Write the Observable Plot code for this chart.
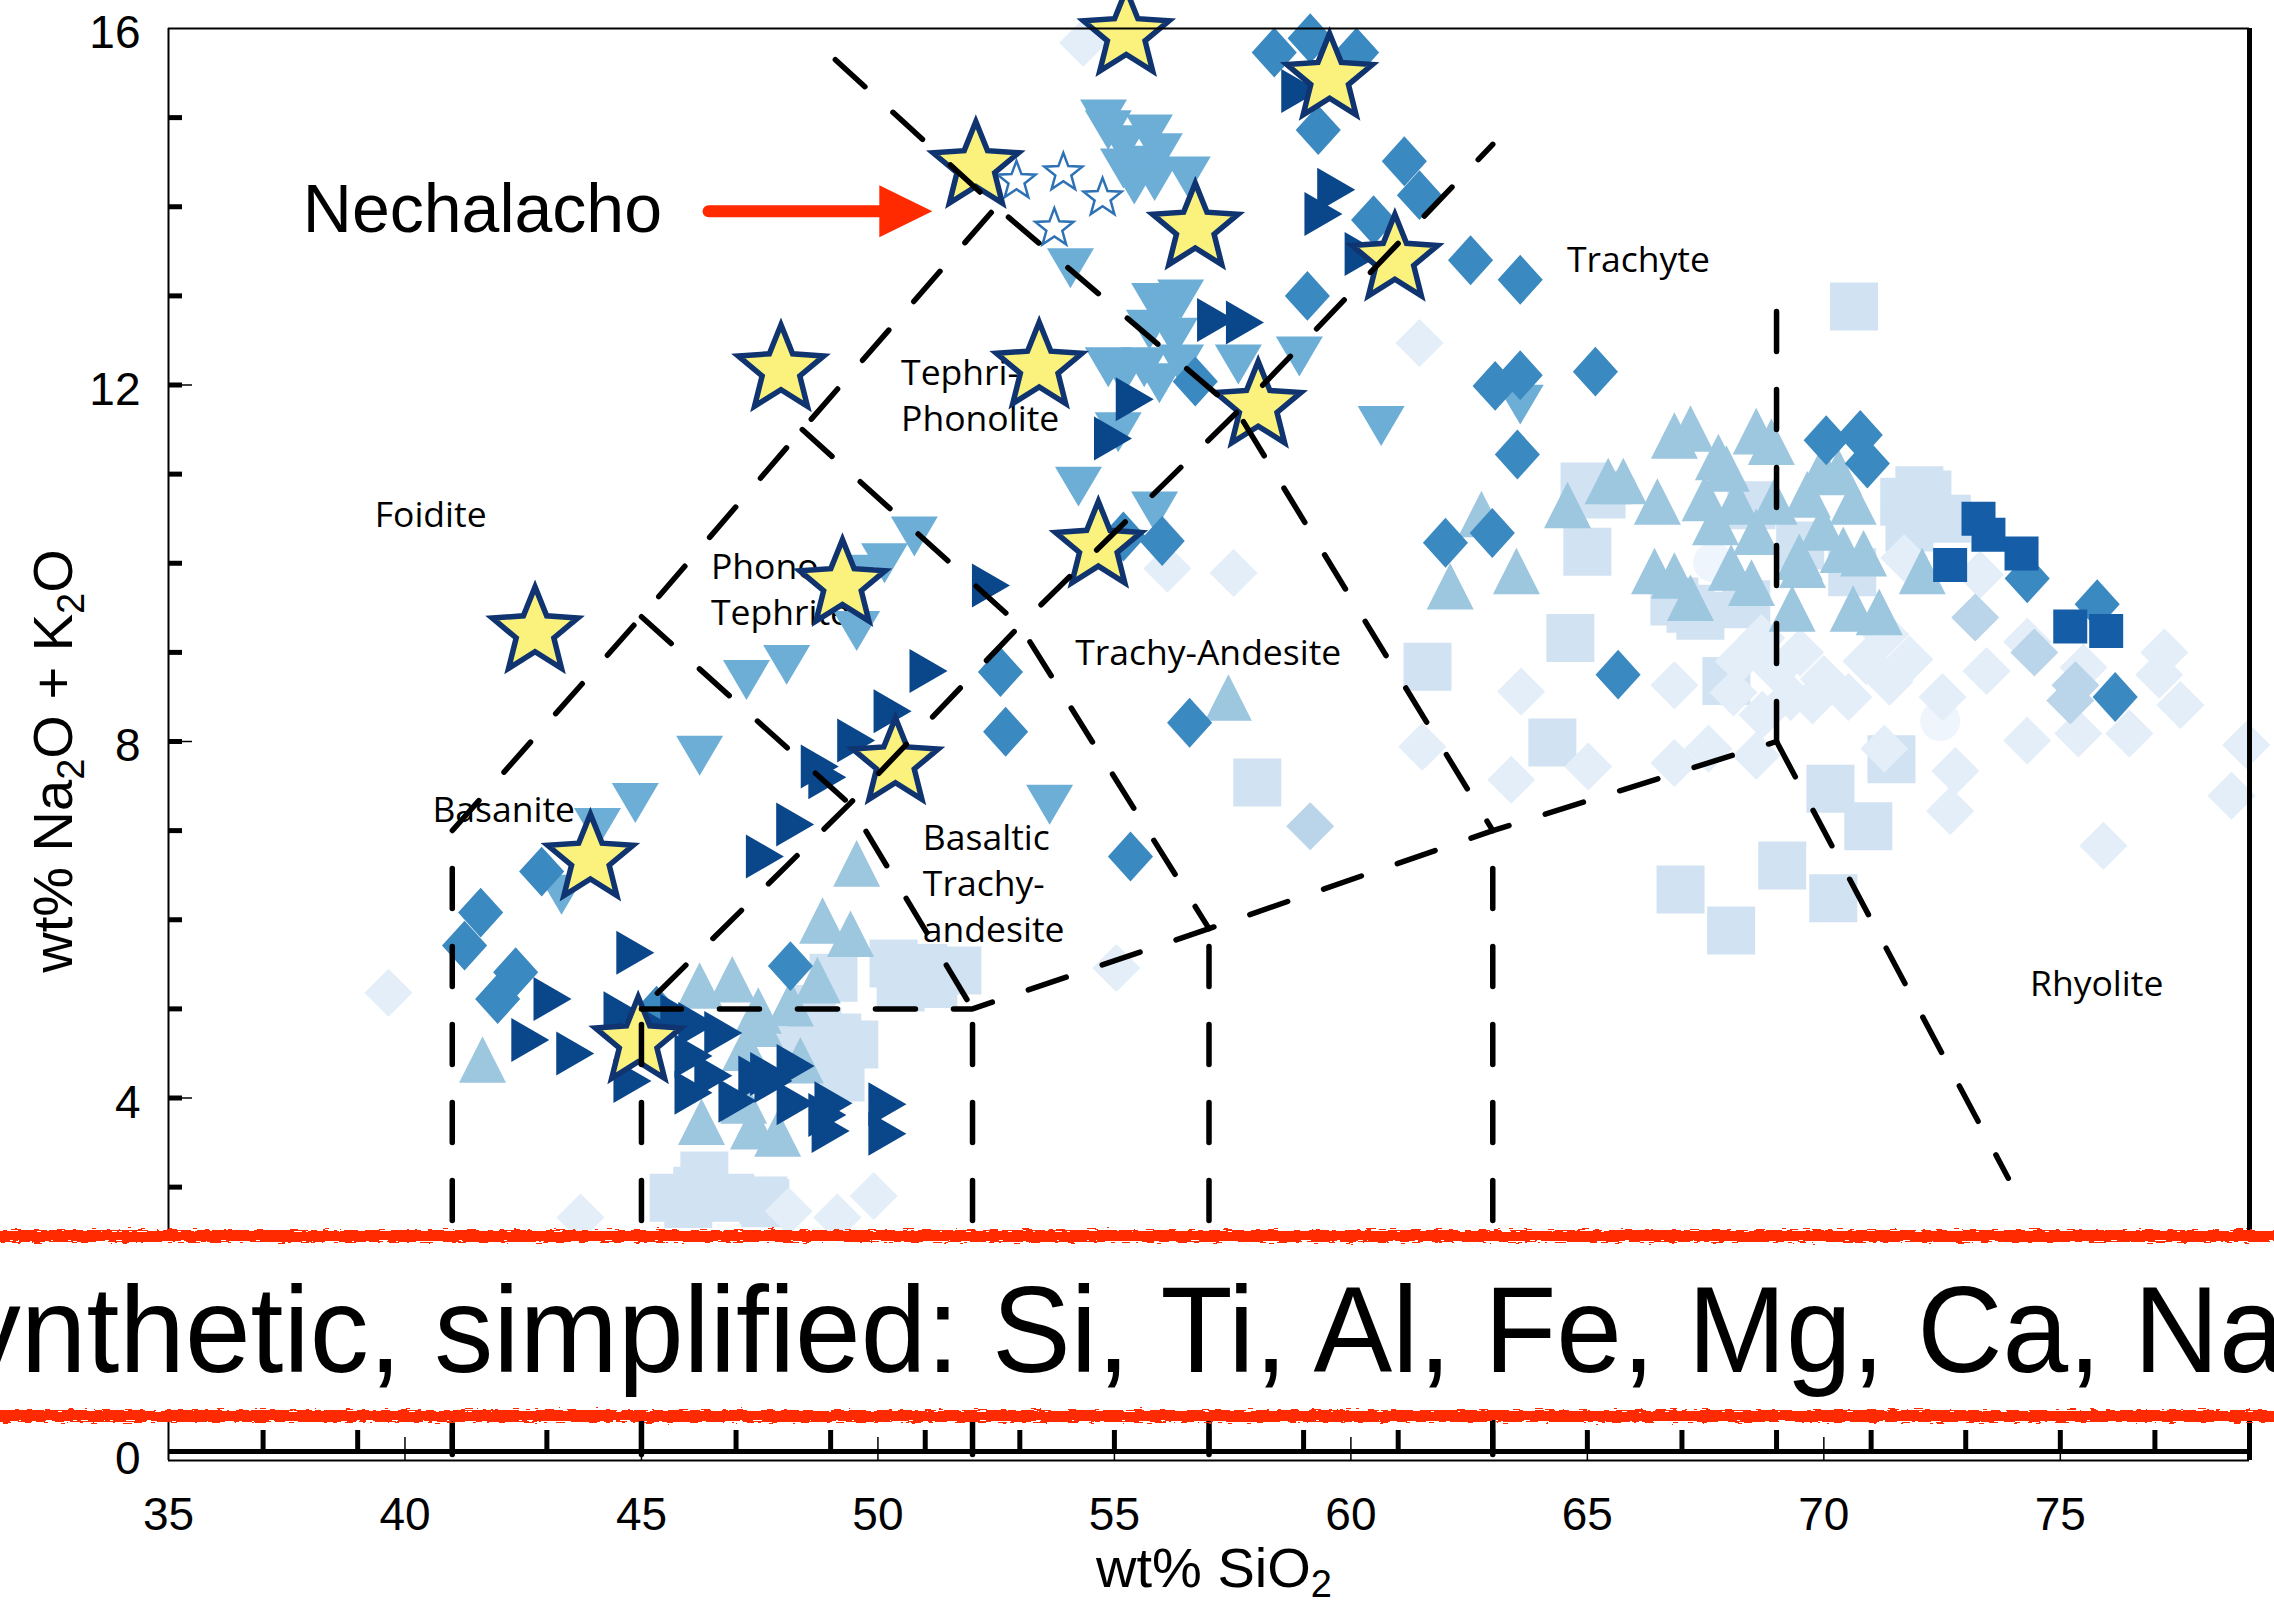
<!DOCTYPE html>
<html>
<head>
<meta charset="utf-8">
<script src="https://cdn.jsdelivr.net/npm/d3@7"></script>
<script src="https://cdn.jsdelivr.net/npm/@observablehq/plot@0.6"></script>
<style>
  html, body { margin: 0; padding: 0; background: #fff; }
  #chart svg { display: block; }
</style>
</head>
<body>
<div id="chart"></div>
<script>
// ---------------- DATA (wt% SiO2, wt% Na2O + K2O) ----------------
const yellowStars = [[55.25,15.93],[52.07,14.45],[59.55,15.44],[56.71,13.76],[60.93,13.41],[47.95,12.17],[53.41,12.20],[58.04,11.76],[54.66,10.19],[49.25,9.76],[42.75,9.23],[50.37,7.76],[43.92,6.68],[44.93,4.63]];
const openStars = [[52.93,14.29],[53.92,14.38],[54.75,14.10],[53.73,13.76]];
const darkTriangles = [[42.65,4.65],[43.12,5.11],[43.60,4.50],[44.87,5.63],[44.60,4.95],[44.81,4.19],[45.40,4.76],[45.80,4.92],[46.18,4.83],[46.73,4.73],[46.10,4.47],[46.10,4.06],[46.52,4.25],[47.03,3.97],[47.45,4.23],[47.79,4.19],[48.26,4.36],[48.26,3.94],[49.06,3.94],[49.00,3.63],[50.20,3.93],[50.20,3.60],[47.70,4.27],[48.93,3.81],[47.61,6.71],[48.25,7.07],[48.93,7.60],[48.77,7.72],[49.54,8.01],[50.31,8.34],[51.07,8.79],[52.39,9.75],[54.97,11.40],[55.43,11.84],[57.15,12.73],[57.76,12.70],[59.42,13.92],[59.69,14.19],[58.93,15.30],[60.27,13.47]];
const midDiamonds = [[58.38,15.73],[59.14,15.89],[60.12,15.73],[59.31,14.86],[61.13,14.51],[61.45,14.13],[60.48,13.85],[62.53,13.40],[59.08,13.00],[56.71,12.04],[56.01,10.25],[55.19,10.30],[63.58,13.18],[63.05,11.99],[63.58,12.11],[65.17,12.15],[63.52,11.22],[62.00,10.23],[62.99,10.34],[70.05,11.38],[70.77,11.44],[70.92,11.12],[74.30,9.83],[65.65,8.75],[75.78,9.54],[76.16,8.50],[52.59,8.78],[52.70,8.11],[56.59,8.21],[55.34,6.71],[48.15,5.48],[42.89,6.54],[41.60,6.08],[41.26,5.71],[42.34,5.41],[41.96,5.11],[45.32,4.98]];
const darkSquares = [[73.27,10.50],[73.48,10.32],[74.18,10.11],[72.67,9.98],[75.21,9.29],[75.97,9.24]];
const downTriangles = [[54.77,14.98],[54.87,14.86],[55.19,14.69],[55.74,14.81],[55.95,14.60],[55.53,14.46],[55.85,14.29],[56.54,14.34],[55.19,14.43],[55.42,14.25],[54.07,13.31],[55.85,12.92],[56.16,12.79],[56.40,12.96],[55.74,12.62],[56.27,12.53],[54.87,12.20],[55.19,12.11],[55.63,12.20],[55.95,12.02],[56.40,12.23],[57.62,12.23],[58.91,12.32],[55.08,11.47],[54.24,10.86],[55.85,10.58],[50.77,10.30],[50.14,10.00],[49.59,9.87],[63.58,11.78],[60.64,11.54],[47.22,8.69],[48.07,8.86],[49.55,9.24],[53.63,7.29],[46.23,7.84],[44.87,7.31],[44.07,7.03],[43.31,6.28]];
const upTriangles = [[67.18,11.51],[66.84,11.43],[68.57,11.48],[68.89,11.36],[67.77,11.19],[67.94,11.06],[69.97,11.06],[70.31,11.02],[65.44,10.92],[65.76,10.92],[64.58,10.65],[66.48,10.69],[67.49,10.73],[68.15,10.69],[68.95,10.69],[69.65,10.77],[70.62,10.69],[67.71,10.46],[68.57,10.35],[69.97,10.40],[70.41,10.15],[69.48,10.07],[66.42,9.91],[66.84,9.86],[68.04,9.95],[68.47,9.78],[69.55,9.98],[70.84,10.11],[72.08,9.91],[69.33,9.49],[70.62,9.49],[71.17,9.45],[67.18,9.61],[63.50,9.91],[62.76,10.55],[62.10,9.74],[57.41,8.49],[41.64,4.43],[46.23,5.26],[46.92,5.33],[46.27,3.73],[47.37,3.68],[47.47,4.98],[48.15,5.06],[48.83,5.99],[49.42,5.84],[48.72,5.32],[47.20,4.56],[47.16,3.97],[47.88,3.60],[48.36,4.42],[49.55,6.63],[47.49,4.83]];
const lightSquares = [[50.33,5.51],[50.96,5.46],[51.68,5.43],[50.48,5.24],[51.17,5.28],[49.06,5.35],[48.72,4.75],[49.14,4.68],[48.36,4.53],[49.21,4.23],[48.90,4.45],[49.50,4.60],[48.60,5.00],[46.18,2.96],[47.58,2.85],[45.99,2.81],[46.33,3.13],[46.88,2.88],[45.68,2.88],[47.62,2.82],[70.64,12.88],[72.19,10.77],[64.94,10.86],[65.00,10.13],[65.30,10.77],[64.64,9.16],[64.26,7.99],[67.94,8.68],[66.97,6.34],[68.04,5.88],[69.12,6.61],[70.14,7.47],[70.94,7.05],[70.20,6.24],[71.43,7.80],[72.02,10.82],[67.18,9.49],[68.47,10.65],[68.36,9.54],[61.62,8.84],[58.02,7.54],[71.70,10.69],[71.81,10.40],[66.84,9.57],[67.39,9.41],[69.50,10.20],[70.60,9.90],[72.60,10.50]];
const paleDiamonds = [[54.34,15.84],[61.45,12.47],[56.12,9.94],[57.52,9.89],[61.51,7.94],[55.04,5.46],[39.65,5.18],[43.71,2.66],[48.11,2.73],[49.14,2.66],[49.91,2.90],[63.60,8.56],[66.84,8.63],[68.09,8.55],[68.68,9.16],[69.76,8.46],[70.52,8.50],[71.39,8.67],[71.81,8.92],[72.51,8.50],[73.44,8.79],[74.30,9.12],[75.49,8.83],[76.46,8.09],[77.20,9.00],[77.54,8.41],[78.62,7.39],[75.91,6.83],[72.67,7.22],[72.78,7.67],[71.28,7.92],[67.56,7.92],[66.84,7.76],[65.02,7.72],[63.39,7.57],[68.57,7.84],[74.30,8.01],[75.38,8.09],[77.09,8.75],[78.93,7.96],[71.70,10.06],[73.30,9.87],[68.20,8.90],[69.00,8.80],[69.50,9.00],[70.00,8.70],[70.90,8.90],[71.30,9.20],[68.70,8.30],[69.30,8.50]];
const midPaleDiamonds = [[73.20,9.39],[74.45,9.00],[75.32,8.63],[75.21,8.46],[59.14,7.05]];
const faintCircles = [[67.66,10.01],[72.46,8.23]];

// TAS field boundaries (dashed)
const tasBoundaries = [
  [[41,0],[41,7],[45,9.4],[48.4,11.5],[52.5,14]],
  [[49.1,15.65],[52.5,14],[57.6,11.7],[63,7]],
  [[45,0],[45,5],[49.4,7.3],[53,9.3],[57.6,11.7],[63,14.7]],
  [[45,9.4],[49.4,7.3],[52,5]],
  [[48.4,11.5],[53,9.3],[57,5.9]],
  [[45,5],[52,5],[57,5.9],[63,7],[69,8]],
  [[52,0],[52,5]],
  [[57,0],[57,5.9]],
  [[63,0],[63,7]],
  [[69,8],[69,13]],
  [[69,8],[73.9,3.1]]
];

const fieldNames = ["Foidite","Basanite","Phono-\nTephrite","Tephri-\nPhonolite","Trachy-Andesite","Basaltic\nTrachy-\nandesite","Trachyte","Rhyolite"];
const fieldX = [39.36,40.58,46.47,50.49,54.17,50.95,64.57,74.36];
const fieldY = [10.57,7.26,9.73,11.91,9.02,6.43,13.43,5.31];

const annotationText = ["Nechalacho"];
const annotationX = [37.84];
const annotationY = [13.96];
const arrowFrom = [46.42, 13.95];
const arrowTo = [51.15, 13.95];

const xTickLabels = [35,40,45,50,55,60,65,70,75];
const yTickLabels = [0,4,8,12,16];
const xMinorTicks = d3.range(37, 79, 2);
const yMinorTicks = d3.range(1, 16, 1);
const bannerText = "Synthetic, simplified: Si, Ti, Al, Fe, Mg, Ca, Na, K";

// ---------------- SYMBOLS ----------------
const rad = size => Math.sqrt(size / Math.PI);
const poly = pts => ({ draw(ctx, size) { const s = rad(size); pts.forEach(([a, b], i) => i ? ctx.lineTo(a * s, b * s) : ctx.moveTo(a * s, b * s)); ctx.closePath(); } });
const symTriRight = poly([[-0.864,-1],[0.864,0],[-0.864,1]]);
const symTriDown = poly([[-1,-0.85],[1,-0.85],[0,0.85]]);
const symTriUp = poly([[0,-1],[1,0.98],[-1,0.98]]);
const symDiamondTall = poly([[0,-1.04],[0.94,0],[0,1.04],[-0.94,0]]);
const symDiamond = poly([[0,-1],[1,0],[0,1],[-1,0]]);
const symSquare = poly([[-1,-1],[1,-1],[1,1],[-1,1]]);
const starSym = (inner) => ({ draw(ctx, size) { const R = rad(size); for (let i = 0; i < 10; i++) { const r = i % 2 ? R * inner : R; const a = -Math.PI / 2 + i * Math.PI / 5; const px = r * Math.cos(a), py = r * Math.sin(a); i ? ctx.lineTo(px, py) : ctx.moveTo(px, py); } ctx.closePath(); } });
const arrowHead = { draw(ctx) { ctx.moveTo(0, 0); ctx.lineTo(-53, -26); ctx.lineTo(-53, 26); ctx.closePath(); } };

const pts = a => a.map(([x, y]) => ({x, y}));
const lineRows = tasBoundaries.flatMap((seg, i) => seg.map(([x, y]) => ({id: i, x, y})));
const fields = fieldNames.map((t, i) => ({text: t, x: fieldX[i], y: fieldY[i]}));
const annots = annotationText.map((t, i) => ({text: t, x: annotationX[i], y: annotationY[i]}));

const W = 2274, H = 1608, ML = 168, MR = 25, MT = 28, MB = 154;
const PW = W - ML - MR, PH = H - MT - MB;
const FONT = "Liberation Sans, Helvetica, Arial, sans-serif";

const dotMark = (data, sym, r, fill, extra = {}) => Plot.dot(pts(data), {x: "x", y: "y", symbol: sym, r, fill, ...extra});

const plot = Plot.plot({
  width: W, height: H,
  marginLeft: ML, marginRight: MR, marginTop: MT, marginBottom: MB,
  x: {domain: [35, 79]},
  y: {domain: [0, 16]},
  style: {fontFamily: FONT, fontSize: "46px", background: "#fff", color: "#000"},
  marks: [
    // region labels (under markers)
    Plot.text(fields, {x: "x", y: "y", text: "text", textAnchor: "start", fontFamily: "Open Sans", fontSize: 35.5, lineHeight: 1.3, fill: "#000"}),
    // data markers
    dotMark(lightSquares, symSquare, 24, "#d1e2f2"),
    dotMark(faintCircles, "circle", 20, "#eef5fc"),
    dotMark(paleDiamonds, symDiamond, 24, "#e3eef9"),
    dotMark(midPaleDiamonds, symDiamond, 24, "#bad5ea"),
    dotMark(upTriangles, symTriUp, 23.5, "#9dc6df"),
    dotMark(downTriangles, symTriDown, 23.5, "#6daed7"),
    dotMark(midDiamonds, symDiamondTall, 24, "#3a89c1"),
    dotMark(darkSquares, symSquare, 17, "#155da7"),
    dotMark(darkTriangles, symTriRight, 22, "#0a468a"),
    dotMark(openStars, starSym(0.42), 20, "#fff", {stroke: "#2e72b5", strokeWidth: 2.5}),
    dotMark(yellowStars, starSym(0.44), 45, "#fbf27d", {stroke: "#0f3470", strokeWidth: 5.5, strokeLinejoin: "miter"}),
    // dashed TAS boundaries
    Plot.line(lineRows, {x: "x", y: "y", z: "id", stroke: "#000", strokeWidth: 5.5, strokeDasharray: "40,38", curve: "linear"}),
    // frame
    Plot.ruleY([16], {strokeWidth: 2}),
    Plot.ruleX([35], {strokeWidth: 2, insetBottom: -6}),
    Plot.ruleX([79], {strokeWidth: 5, insetBottom: -6}),
    Plot.ruleY([0], {strokeWidth: 5, dy: -3}),
    Plot.ruleY([0], {strokeWidth: 2, dy: 6}),
    // ticks
    Plot.tickY(yMinorTicks, {y: d => d, strokeWidth: 5, insetRight: PW - 14}),
    Plot.tickY(yTickLabels.filter(d => d > 0 && d < 16), {y: d => d, strokeWidth: 1.5, insetRight: PW - 24}),
    Plot.tickX(xMinorTicks, {x: d => d, strokeWidth: 5, insetTop: PH - 24}),
    Plot.tickX(xTickLabels.filter(d => d > 35), {x: d => d, strokeWidth: 1.5, insetTop: PH - 17, insetBottom: -6}),
    Plot.axisX(xTickLabels, {tickSize: 0, tickPadding: 43, fontSize: 46, label: null, tickFormat: d => String(d)}),
    Plot.axisY(yTickLabels, {tickSize: 0, tickPadding: 28, fontSize: 46, dy: 5, label: null, tickFormat: d => String(d)}),
    // annotation
    Plot.text(annots, {x: "x", y: "y", text: "text", textAnchor: "start", fontSize: 68, fill: "#000"}),
    Plot.arrow([{x1: arrowFrom[0], y1: arrowFrom[1], x2: arrowTo[0], y2: arrowTo[1]}], {x1: "x1", y1: "y1", x2: "x2", y2: "y2", stroke: "#ff2a00", strokeWidth: 12, headLength: 0, insetEnd: 45}),
    Plot.dot([{x: arrowTo[0], y: arrowTo[1]}], {x: "x", y: "y", symbol: arrowHead, fill: "#ff2a00"})
  ]
});

document.getElementById("chart").appendChild(plot);

// ---------- axis titles (with subscripts) ----------
const svg = d3.select(plot);
const xt = svg.append("text").attr("x", 1214).attr("y", 1587).attr("text-anchor", "middle")
  .attr("font-family", FONT).attr("font-size", 56).attr("fill", "#000");
xt.append("tspan").text("wt% SiO");
xt.append("tspan").attr("dy", 10).attr("font-size", 38).text("2");

const yt = svg.append("text").attr("transform", "translate(72,761) rotate(-90)").attr("text-anchor", "middle")
  .attr("font-family", FONT).attr("font-size", 56).attr("fill", "#000");
yt.append("tspan").text("wt% Na");
yt.append("tspan").attr("dy", 12).attr("font-size", 38).text("2");
yt.append("tspan").attr("dy", -12).text("O + K");
yt.append("tspan").attr("dy", 12).attr("font-size", 38).text("2");
yt.append("tspan").attr("dy", -12).text("O");

// ---------- banner overlay ----------
const defs = svg.append("defs");
const flt = defs.append("filter").attr("id", "rough").attr("x", "-2%").attr("y", "-300%").attr("width", "104%").attr("height", "700%");
flt.append("feTurbulence").attr("type", "fractalNoise").attr("baseFrequency", "0.09 0.7").attr("numOctaves", 2).attr("seed", 7).attr("result", "noise");
flt.append("feDisplacementMap").attr("in", "SourceGraphic").attr("in2", "noise").attr("scale", 8).attr("xChannelSelector", "R").attr("yChannelSelector", "G");
const banner = svg.append("g");
banner.append("rect").attr("x", 0).attr("y", 1236).attr("width", W).attr("height", 180).attr("fill", "#fff");
banner.append("rect").attr("x", -10).attr("y", 1230).attr("width", W + 20).attr("height", 12).attr("fill", "#ff2a00").attr("filter", "url(#rough)");
banner.append("rect").attr("x", -10).attr("y", 1410).attr("width", W + 20).attr("height", 12).attr("fill", "#ff2a00").attr("filter", "url(#rough)");
banner.append("text").attr("transform", "translate(-117,1372) scale(0.968,1)").attr("x", 0).attr("y", 0)
  .attr("text-anchor", "start").attr("font-family", FONT)
  .attr("font-size", 122).attr("fill", "#000").text(bannerText);
</script>
</body>
</html>
